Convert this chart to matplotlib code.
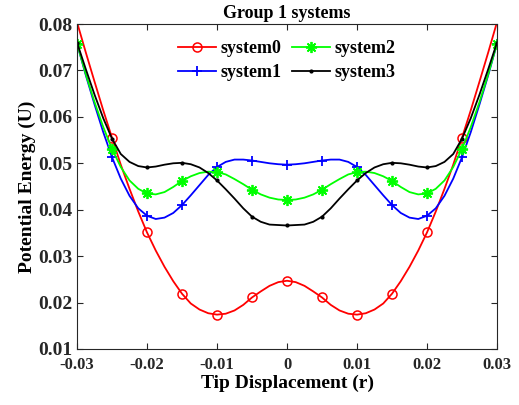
import matplotlib

matplotlib.use("Agg")
import matplotlib.pyplot as plt

# tip displacement samples (step 0.00125); markers sit on every 4th sample
r = [-0.03, -0.02875, -0.0275, -0.02625, -0.025, -0.02375, -0.0225, -0.02125,
     -0.02, -0.01875, -0.0175, -0.01625, -0.015, -0.01375, -0.0125, -0.01125,
     -0.01, -0.00875, -0.0075, -0.00625, -0.005, -0.00375, -0.0025, -0.00125,
     0.0,
     0.00125, 0.0025, 0.00375, 0.005, 0.00625, 0.0075, 0.00875, 0.01,
     0.01125, 0.0125, 0.01375, 0.015, 0.01625, 0.0175, 0.01875, 0.02,
     0.02125, 0.0225, 0.02375, 0.025, 0.02625, 0.0275, 0.02875, 0.03]

system0 = [0.0804, 0.0739, 0.0676, 0.0614, 0.0555, 0.0497, 0.0445, 0.0396,
           0.0351, 0.0312, 0.0277, 0.0246, 0.0219, 0.0198, 0.0185, 0.0177,
           0.0174, 0.0176, 0.0183, 0.0195, 0.0211, 0.0224, 0.0236, 0.0244,
           0.0247,
           0.0244, 0.0236, 0.0224, 0.0211, 0.0195, 0.0183, 0.0176, 0.0174,
           0.0177, 0.0185, 0.0198, 0.0219, 0.0246, 0.0277, 0.0312, 0.0351,
           0.0396, 0.0445, 0.0497, 0.0555, 0.0614, 0.0676, 0.0739, 0.0804]
system1 = [0.0758, 0.0690, 0.0627, 0.0567, 0.0513, 0.0467, 0.0430, 0.0403,
           0.0387, 0.0380, 0.0383, 0.0393, 0.0410, 0.0431, 0.0453, 0.0475,
           0.0492, 0.0503, 0.0508, 0.0508, 0.0506, 0.0503, 0.0500, 0.0498,
           0.0497,
           0.0498, 0.0500, 0.0503, 0.0506, 0.0508, 0.0508, 0.0503, 0.0492,
           0.0475, 0.0453, 0.0431, 0.0410, 0.0393, 0.0383, 0.0380, 0.0387,
           0.0403, 0.0430, 0.0467, 0.0513, 0.0567, 0.0627, 0.0690, 0.0758]
system2 = [0.0758, 0.0692, 0.0632, 0.0578, 0.0531, 0.0492, 0.0463, 0.0445,
           0.0435, 0.0433, 0.0438, 0.0449, 0.0462, 0.0472, 0.0479, 0.0482,
           0.0481, 0.0476, 0.0466, 0.0455, 0.0443, 0.0433, 0.0426, 0.0422,
           0.0421,
           0.0422, 0.0426, 0.0433, 0.0443, 0.0455, 0.0466, 0.0476, 0.0481,
           0.0482, 0.0479, 0.0472, 0.0462, 0.0449, 0.0438, 0.0433, 0.0435,
           0.0445, 0.0463, 0.0492, 0.0531, 0.0578, 0.0632, 0.0692, 0.0758]
system3 = [0.0760, 0.0703, 0.0648, 0.0597, 0.0553, 0.0520, 0.0503, 0.0494,
           0.0491, 0.0493, 0.0497, 0.0500, 0.0501, 0.0498, 0.0491, 0.0479,
           0.0463, 0.0444, 0.0424, 0.0403, 0.0385, 0.0374, 0.0368, 0.0367,
           0.0366,
           0.0367, 0.0368, 0.0374, 0.0385, 0.0403, 0.0424, 0.0444, 0.0463,
           0.0479, 0.0491, 0.0498, 0.0501, 0.0500, 0.0497, 0.0493, 0.0491,
           0.0494, 0.0503, 0.0520, 0.0553, 0.0597, 0.0648, 0.0703, 0.0760]

x_ticks = [-0.03, -0.02, -0.01, 0, 0.01, 0.02, 0.03]
x_tick_labels = ["-0.03", "-0.02", "-0.01", "0", "0.01", "0.02", "0.03"]
y_ticks = [0.01, 0.02, 0.03, 0.04, 0.05, 0.06, 0.07, 0.08]
y_tick_labels = ["0.01", "0.02", "0.03", "0.04", "0.05", "0.06", "0.07", "0.08"]

plt.rcParams["font.family"] = ["Liberation Serif", "DejaVu Serif"]
plt.rcParams["font.weight"] = "bold"

fig = plt.figure(figsize=(5.19, 4.05), dpi=100, facecolor="white")
ax = fig.add_axes([0.1484, 0.1383, 0.8092, 0.8024])

n = len(r)
every = list(range(0, n, 4))
lw = 1.3
# red end markers fall just outside the y-range, so they are left off
ax.plot(r, system0, color="#ff0000", lw=lw, marker="o", markersize=6.5,
        markerfacecolor="none", markeredgewidth=1.1,
        markevery=every[1:-1], label="system0")
ax.plot(r, system1, color="#0000ff", lw=lw, marker="+", markersize=7.5,
        markeredgewidth=1.3, markevery=every, label="system1")
ax.plot(r, system2, color="#00ff00", lw=lw, marker=(8, 2, 0), markersize=8,
        markeredgewidth=1.3, markevery=every, label="system2")
ax.plot(r, system3, color="black", lw=lw, marker=".", markersize=4,
        markevery=every, label="system3")

ax.set_xlim(-0.03, 0.03)
ax.set_ylim(0.01, 0.08)
ax.set_xticks(x_ticks)
ax.set_xticklabels(x_tick_labels)
ax.set_yticks(y_ticks)
ax.set_yticklabels(y_tick_labels)
ax.tick_params(direction="in", top=True, right=True, length=4, width=0.8,
               colors="#262626")
ax.tick_params(axis="x", labelsize=12, pad=6)
ax.tick_params(axis="y", labelsize=14, pad=3)
for lab in ax.get_xticklabels() + ax.get_yticklabels():
    lab.set_fontweight("bold")
    lab.set_color("#262626")
for sp in ax.spines.values():
    sp.set_color("#262626")
    sp.set_linewidth(0.8)

ax.set_title("Group 1 systems", fontsize=13, fontweight="bold", pad=4)
ax.set_xlabel("Tip Displacement (r)", fontsize=14, fontweight="bold", labelpad=1)
ax.set_ylabel("Potential Energy (U)", fontsize=14, fontweight="bold", labelpad=2)

ax.legend(loc="upper center", ncol=2, frameon=False,
          bbox_to_anchor=(0.5, 0.99), handlelength=2.1, handletextpad=0.25,
          columnspacing=0.6, labelspacing=0.42, borderaxespad=0.3,
          prop={"weight": "bold", "size": 13})

fig.savefig("out.png", dpi=100, facecolor="white")
